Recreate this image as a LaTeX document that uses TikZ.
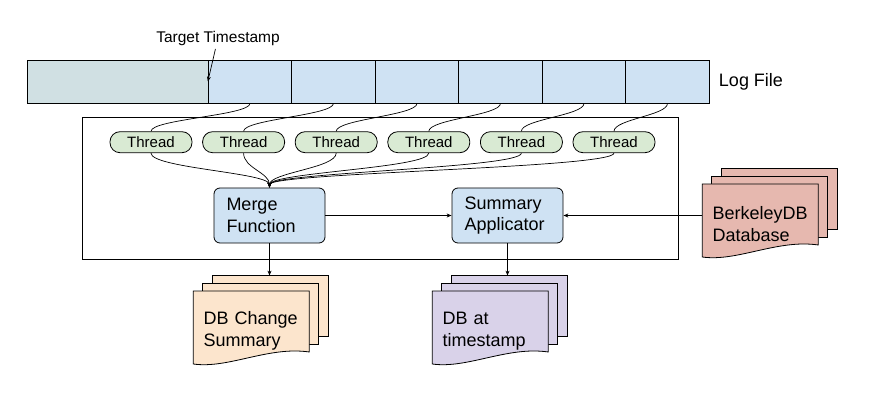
\documentclass[tikz,border=0pt]{standalone}
\usepackage{fontspec}
\setmainfont{Liberation Sans}
\usetikzlibrary{arrows.meta,backgrounds,positioning}

\definecolor{logblue}{HTML}{CFE2F3}
\definecolor{oldgray}{HTML}{D0E0E3}
\definecolor{threadgreen}{HTML}{D9EAD3}
\definecolor{changeorange}{HTML}{FCE5CD}
\definecolor{stamppurple}{HTML}{D9D2E9}
\definecolor{berkeleyred}{HTML}{E6B8AF}

\begin{document}
\begin{tikzpicture}
 [x=1pt, y=-1pt, line width=0.8pt,
  big text/.style={font=\fontsize{18}{21.7}\selectfont},
  log node/.style={node distance=83.5pt, rectangle, draw, fill=logblue, minimum width=83.5pt, minimum height=43pt, inner sep=0pt},
  old node/.style={rectangle, draw, fill=oldgray, minimum width=181.25pt, minimum height=43pt, inner sep=0pt},
  thread node/.style={node distance=92.6pt, rectangle, rounded corners=10pt, draw, fill=threadgreen, minimum width=82pt, minimum height=21pt, inner sep=0pt, font=\fontsize{15}{18}\selectfont},
  proc node/.style={node distance=238pt, rectangle, rounded corners=6pt, draw, fill=logblue, text width=86pt, inner xsep=12.5pt, minimum height=55pt, align=left, big text},
  doc node/.style={text width=96pt, inner xsep=10pt, inner ysep=0pt, minimum height=79pt, anchor=north west, align=left, big text},
  sheet/.style={draw, line width=0.8pt},
  link/.style={line width=0.7pt},
  arrow link/.style={-{Stealth[length=5pt,width=4pt]}, line width=0.7pt}]

\useasboundingbox (0,0) rectangle (876,417);

% log file
\node[old node] (l0) at (117.6,81.5) {};
\node[log node] (l1) at (250,81.5) {};
\node[log node] (l2) [right of=l1] {};
\node[log node] (l3) [right of=l2] {};
\node[log node] (l4) [right of=l3] {};
\node[log node] (l5) [right of=l4] {};
\node[log node] (l6) [right of=l5] {};
\node (logfile) [node distance=83.5pt, right of=l6, big text] {Log File};
\node (target) at (218,38) [font=\fontsize{15.5}{18}\selectfont] {Target Timestamp};

% processing frame
\node[draw, minimum width=596pt, minimum height=142pt, inner sep=0pt] (frame) at (380,188) {};

\node[thread node] (t1) at (151,142.2) {Thread};
\node[thread node] (t2) [right of=t1] {Thread};
\node[thread node] (t3) [right of=t2] {Thread};
\node[thread node] (t4) [right of=t3] {Thread};
\node[thread node] (t5) [right of=t4] {Thread};
\node[thread node] (t6) [right of=t5] {Thread};

\node[proc node] (merge) at (269.5,215.5) {Merge\\Function};
\node[proc node] (summ) [right of=merge] {Summary\\Applicator};

% documents
\node[doc node] (dbchange) at (193.3,291) {DB Change\\Summary};
\node[doc node] (dbstamp) at (432.3,291) {DB at\\timestamp};
\node[doc node] (bdb) at (702.3,184) {BerkeleyDB\\Database};

\begin{scope}[on background layer]
 \filldraw[sheet, fill=changeorange] ([shift={(19,-15.4)}]dbchange.north west) coordinate (dbchange back) rectangle +(116,61);
 \filldraw[sheet, fill=changeorange] ([shift={(9.5,-7.7)}]dbchange.north west) rectangle +(116,61);
 \filldraw[sheet, fill=changeorange] (dbchange.north west) -- ++(116,0) -- ++(0,61) .. controls +(-41,-6) and +(35,5) .. ++(-116,12) -- cycle;

 \filldraw[sheet, fill=stamppurple] ([shift={(19,-15.4)}]dbstamp.north west) coordinate (dbstamp back) rectangle +(116,61);
 \filldraw[sheet, fill=stamppurple] ([shift={(9.5,-7.7)}]dbstamp.north west) rectangle +(116,61);
 \filldraw[sheet, fill=stamppurple] (dbstamp.north west) -- ++(116,0) -- ++(0,61) .. controls +(-41,-6) and +(35,5) .. ++(-116,12) -- cycle;

 \filldraw[sheet, fill=berkeleyred] ([shift={(19,-15.4)}]bdb.north west) rectangle +(116,61);
 \filldraw[sheet, fill=berkeleyred] ([shift={(9.5,-7.7)}]bdb.north west) rectangle +(116,61);
 \filldraw[sheet, fill=berkeleyred] (bdb.north west) -- ++(116,0) -- ++(0,61) .. controls +(-41,-6) and +(35,5) .. ++(-116,12) -- cycle;
\end{scope}

\path
  (target) edge [arrow link] (l1.west)
  (l1.south) edge [link, out=-90, in=90, distance=12pt] (t1.north)
  (l2.south) edge [link, out=-90, in=90, distance=12pt] (t2.north)
  (l3.south) edge [link, out=-90, in=90, distance=12pt] (t3.north)
  (l4.south) edge [link, out=-90, in=90, distance=12pt] (t4.north)
  (l5.south) edge [link, out=-90, in=90, distance=12pt] (t5.north)
  (l6.south) edge [link, out=-90, in=90, distance=12pt] (t6.north)
  (t1.south) edge [arrow link, out=-90, in=90, distance=15pt] (merge.north)
  (t2.south) edge [arrow link, out=-90, in=90, distance=15pt] (merge.north)
  (t3.south) edge [arrow link, out=-90, in=90, distance=15pt] (merge.north)
  (t4.south) edge [arrow link, out=-90, in=90, distance=15pt] (merge.north)
  (t5.south) edge [arrow link, out=-90, in=90, distance=15pt] (merge.north)
  (t6.south) edge [arrow link, out=-90, in=90, distance=15pt] (merge.north)
  (merge) edge [arrow link] (summ)
  (bdb.west |- summ) edge [arrow link] (summ)
  (merge) edge [arrow link] (merge |- dbchange back)
  (summ) edge [arrow link] (summ |- dbstamp back);

\end{tikzpicture}
\end{document}
